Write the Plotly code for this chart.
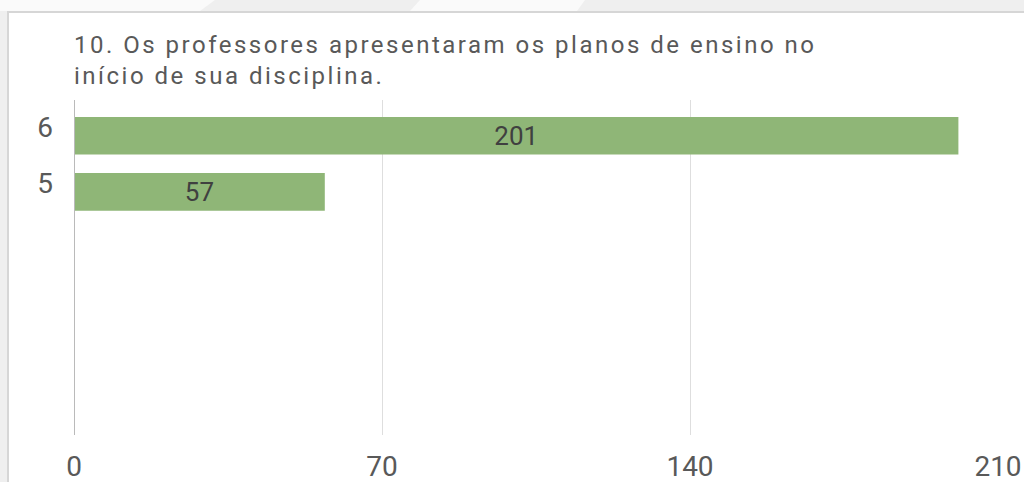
import plotly.graph_objects as go

# ---- data ----
categories = [6, 5]
values = [201, 57]
x_ticks = [0, 70, 140, 210]
title_text = "10. Os professores apresentaram os planos de ensino no<br>início de sua disciplina."

W, H = 1024, 482
L, R, T, B = 74, 26, 100, 47
pw, ph = W - L - R, H - T - B

def px_x(p):
    return (p - L) / pw

def px_y(p):
    return (H - B - p) / ph

fig = go.Figure()
fig.add_trace(go.Bar(
    x=values, y=categories, orientation="h",
    marker=dict(color="#8fb677", line=dict(width=0)),
    width=0.67,
    text=[str(v) for v in values], textposition="inside",
    insidetextanchor="middle",
    textfont=dict(family="Roboto", size=26, color="#404040"),
    hoverinfo="skip",
))

fig.update_layout(
    width=W, height=H,
    margin=dict(l=L, r=R, t=T, b=B, autoexpand=False),
    paper_bgcolor="#efefef",
    plot_bgcolor="rgba(0,0,0,0)",
    showlegend=False,
    font=dict(family="Roboto", color="#595959"),
    xaxis=dict(
        range=[0, 210], tickvals=x_ticks, ticktext=[str(t) for t in x_ticks],
        showgrid=True, gridcolor="#dedede", gridwidth=1,
        zeroline=False, showline=False, ticks="",
        tickfont=dict(family="Roboto", size=28, color="#595959"),
        ticklabelstandoff=12, fixedrange=True,
    ),
    yaxis=dict(
        range=[0.66, 6.64], tickvals=categories, ticktext=[str(c) for c in categories],
        showgrid=False, zeroline=False, showline=False, ticks="",
        tickfont=dict(family="Roboto", size=28, color="#595959"),
        ticklabelstandoff=20, ticklabelshift=-9, fixedrange=True,
    ),
    shapes=[
        # white panel with border
        dict(type="rect", xref="paper", yref="paper",
             x0=px_x(8), x1=px_x(1040), y0=px_y(500), y1=px_y(12),
             fillcolor="white", line=dict(color="#d6d6d6", width=2), layer="below"),
        # light diagonal highlights in the top strip
        dict(type="path", xref="paper", yref="paper",
             path=f"M {px_x(0)},{px_y(0)} L {px_x(215)},{px_y(0)} L {px_x(200)},{px_y(11)} L {px_x(0)},{px_y(11)} Z",
             fillcolor="#fafafa", line=dict(width=0), layer="below"),
        dict(type="path", xref="paper", yref="paper",
             path=f"M {px_x(420)},{px_y(0)} L {px_x(585)},{px_y(0)} L {px_x(577)},{px_y(11)} L {px_x(410)},{px_y(11)} Z",
             fillcolor="#fafafa", line=dict(width=0), layer="below"),
        # vertical axis line at zero
        dict(type="line", xref="x", yref="paper", x0=0, x1=0, y0=0, y1=1,
             line=dict(color="#bababa", width=2), layer="above"),
    ],
    annotations=[
        dict(text=title_text, xref="paper", yref="paper",
             x=px_x(72), y=px_y(29), xanchor="left", yanchor="top",
             align="left", showarrow=False,
             font=dict(family="Roboto", size=24, color="#595959")),
    ],
)

post = (
    "document.body.style.margin='0';document.body.style.overflow='hidden';"
    "var gd=document.getElementById('{plot_id}');"
    "function ls(){gd.querySelectorAll('.annotation-text').forEach(function(e){e.style.letterSpacing='2.5px';});}"
    "ls();if(gd.on){gd.on('plotly_afterplot',ls);}"
)
fig.write_html("out.html", post_script=post, config={"displayModeBar": False, "staticPlot": True})
